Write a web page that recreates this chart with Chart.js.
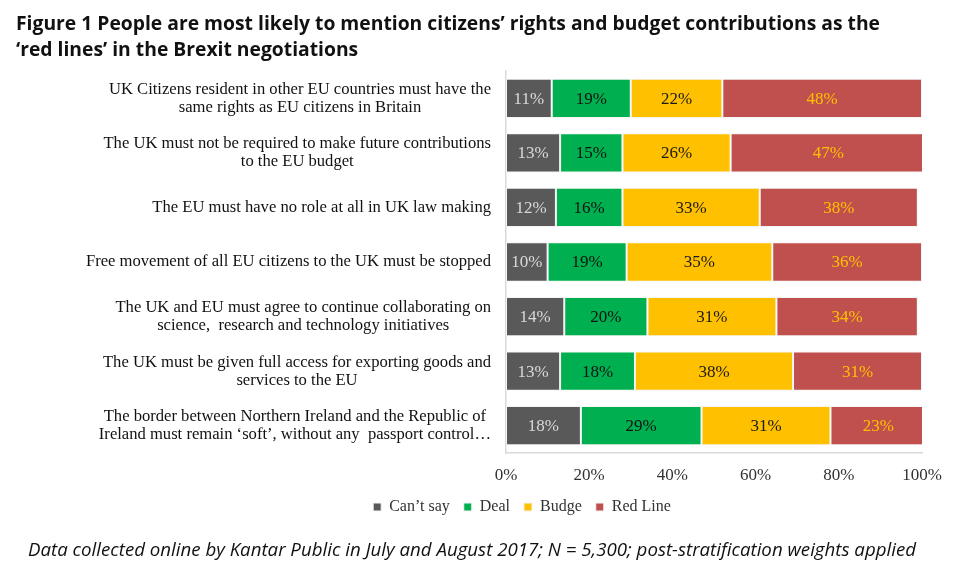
<!DOCTYPE html>
<html>
<head>
<meta charset="utf-8">
<script src="https://cdn.jsdelivr.net/npm/chart.js@4/dist/chart.umd.min.js"></script>
<style>
  html, body { margin:0; padding:0; background:#fff; }
  #wrap { position:relative; width:960px; height:571px; overflow:hidden; background:#fff; }
  #c { position:absolute; left:0; top:0; }
  .title { position:absolute; left:16px; font-family:"Liberation Sans Narrow","Open Sans",sans-serif; font-weight:bold; font-size:20px; color:#111; white-space:nowrap; transform-origin:0 50%; }
  .foot { position:absolute; left:28px; top:537px; font-family:"Open Sans",sans-serif; font-style:italic; font-size:18px; color:#111; white-space:nowrap; transform-origin:0 50%; }
</style>
</head>
<body>
<div id="wrap">
  <canvas id="c" width="960" height="571"></canvas>
  <div class="title" id="t1" style="top:9px">Figure 1 People are most likely to mention citizens’ rights and budget contributions  as the</div>
  <div class="title" id="t2" style="top:35px">‘red lines’ in the Brexit negotiations</div>
  <div class="foot" id="ft">Data collected online by Kantar Public in July and August 2017; N = 5,300; post-stratification weights applied</div>
</div>
<script>
const categories = [
  ["UK Citizens resident in other EU countries must have the", "same rights as EU citizens in Britain"],
  ["The UK must not be required to make future contributions", "to the EU budget"],
  ["The EU must have no role at all in UK law making"],
  ["Free movement of all EU citizens to the UK must be stopped"],
  ["The UK and EU must agree to continue collaborating on", "science,  research and technology initiatives"],
  ["The UK must be given full access for exporting goods and", "services to the EU"],
  ["The border between Northern Ireland and the Republic of", "Ireland must remain ‘soft’, without any  passport control…"]
];
const seriesNames = ["Can’t say", "Deal", "Budge", "Red Line"];
const cantSay = [11, 13, 12, 10, 14, 13, 18];
const deal    = [19, 15, 16, 19, 20, 18, 29];
const budge   = [22, 26, 33, 35, 31, 38, 31];
const redLine = [48, 47, 38, 36, 34, 31, 23];
const xTicks = [0, 20, 40, 60, 80, 100];

const barColors = ["#595959", "#00B050", "#FFC000", "#C0504D"];
const labelColors = ["#D9D9D9", "#111111", "#1a1a1a", "#FFC000"];
const SERIF = '"Liberation Serif", "DejaVu Serif", serif';

(function () {
  const t1 = document.getElementById('t1');
  const t2 = document.getElementById('t2');
  const s = 864 / t1.getBoundingClientRect().width;
  t1.style.transform = 'scaleX(' + s + ')';
  t2.style.transform = 'scaleX(' + s + ')';
  const ft = document.getElementById('ft');
  ft.style.transform = 'scaleX(' + (888 / ft.getBoundingClientRect().width) + ')';
})();

const dataLabelPlugin = {
  id: 'dataLabels',
  afterDatasetsDraw(chart) {
    const ctx = chart.ctx;
    ctx.save();
    ctx.font = '17px ' + SERIF;
    ctx.textAlign = 'center';
    ctx.textBaseline = 'middle';
    chart.data.datasets.forEach((ds, di) => {
      const meta = chart.getDatasetMeta(di);
      meta.data.forEach((el, i) => {
        const p = el.getCenterPoint();
        ctx.fillStyle = labelColors[di];
        ctx.fillText(ds.data[i] + '%', p.x, p.y + 1);
      });
    });
    ctx.restore();
  }
};

const yLabelPlugin = {
  id: 'yLabels',
  afterDraw(chart) {
    const ctx = chart.ctx;
    const ys = chart.scales.y;
    ctx.save();
    ctx.font = '16.6px ' + SERIF;
    ctx.fillStyle = '#111';
    ctx.textAlign = 'center';
    ctx.textBaseline = 'middle';
    const right = chart.chartArea.left - 15;
    const lh = 18;
    categories.forEach((lines, i) => {
      const y = ys.getPixelForValue(i);
      let maxW = 0;
      lines.forEach(l => { maxW = Math.max(maxW, ctx.measureText(l).width); });
      const cx = right - maxW / 2;
      const y0 = y - (lines.length - 1) * lh / 2;
      lines.forEach((l, k) => ctx.fillText(l, cx, y0 + k * lh));
    });
    ctx.restore();
  }
};

new Chart(document.getElementById('c'), {
  type: 'bar',
  data: {
    labels: categories.map(l => l.join(' ')),
    datasets: [cantSay, deal, budge, redLine].map((d, i) => ({
      label: seriesNames[i],
      data: d,
      backgroundColor: barColors[i],
      borderColor: '#f4f4f4',
      borderWidth: 1,
      borderSkipped: false,
      barPercentage: 0.72,
      categoryPercentage: 1.0
    }))
  },
  options: {
    indexAxis: 'y',
    responsive: false,
    animation: false,
    layout: { padding: { left: 84, right: 0, top: 71, bottom: 46 } },
    scales: {
      x: {
        stacked: true,
        min: 0, max: 100,
        afterBuildTicks(s) { s.ticks = xTicks.map(v => ({ value: v })); },
        ticks: { callback: v => v + '%', font: { family: SERIF, size: 17 }, color: '#333', padding: 12, maxRotation: 0 },
        grid: { display: false, drawTicks: false },
        border: { display: true, color: '#D9D9D9', width: 1.5 },
        afterFit(s) { s.paddingRight = 38; s.paddingLeft = 0; s.height = 32; }
      },
      y: {
        stacked: true,
        ticks: { display: false },
        grid: { display: false, drawTicks: false },
        border: { display: true, color: '#D9D9D9', width: 1.5 },
        afterFit(s) { s.width = 422; }
      }
    },
    plugins: {
      legend: {
        position: 'bottom',
        labels: { boxWidth: 8, boxHeight: 8, padding: 14, font: { family: SERIF, size: 16 }, color: '#333' }
      },
      tooltip: { enabled: false }
    }
  },
  plugins: [dataLabelPlugin, yLabelPlugin]
});
</script>
</body>
</html>
